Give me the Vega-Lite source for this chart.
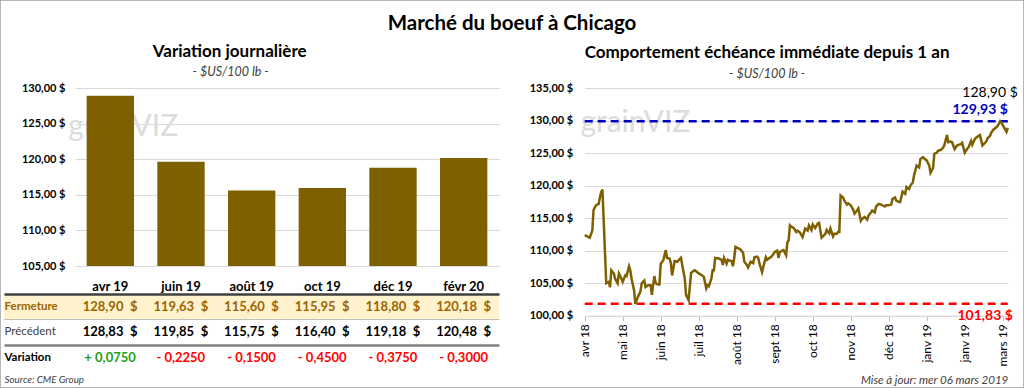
{
  "$schema": "https://vega.github.io/schema/vega-lite/v6.json",
  "width": 1024,
  "height": 388,
  "autosize": {"type": "none"},
  "padding": 0,
  "background": "white",
  "title": {"text": "Marché du boeuf à Chicago", "fontSize": 20.5, "fontWeight": "bold", "anchor": "middle", "frame": "group", "offset": -34, "color": "#000"},
  "datasets": {
    "contrats": [
      {"mois": "avr 19", "fermeture": 128.90, "precedent": 128.83, "variation": 0.075},
      {"mois": "juin 19", "fermeture": 119.63, "precedent": 119.85, "variation": -0.225},
      {"mois": "août 19", "fermeture": 115.60, "precedent": 115.75, "variation": -0.15},
      {"mois": "oct 19", "fermeture": 115.95, "precedent": 116.40, "variation": -0.45},
      {"mois": "déc 19", "fermeture": 118.80, "precedent": 119.18, "variation": -0.375},
      {"mois": "févr 20", "fermeture": 120.18, "precedent": 120.48, "variation": -0.30}
    ],
    "references": [
      {"serie": "dernier", "valeur": 128.90},
      {"serie": "max", "valeur": 129.93},
      {"serie": "min", "valeur": 101.83}
    ],
    "historique": [
      {"date": "2018-04-06", "cours": 112.4}, {"date": "2018-04-10", "cours": 112.0}, {"date": "2018-04-12", "cours": 113.1}, {"date": "2018-04-13", "cours": 116.3},
      {"date": "2018-04-15", "cours": 117.0}, {"date": "2018-04-17", "cours": 117.2}, {"date": "2018-04-18", "cours": 118.2}, {"date": "2018-04-19", "cours": 119.0},
      {"date": "2018-04-20", "cours": 119.4}, {"date": "2018-04-23", "cours": 105.0}, {"date": "2018-04-25", "cours": 105.2}, {"date": "2018-04-26", "cours": 104.4},
      {"date": "2018-04-27", "cours": 107.0}, {"date": "2018-04-29", "cours": 106.5}, {"date": "2018-04-30", "cours": 105.7}, {"date": "2018-05-02", "cours": 105.0},
      {"date": "2018-05-03", "cours": 106.5}, {"date": "2018-05-05", "cours": 105.7}, {"date": "2018-05-06", "cours": 105.2}, {"date": "2018-05-08", "cours": 106.2},
      {"date": "2018-05-09", "cours": 106.1}, {"date": "2018-05-11", "cours": 107.6}, {"date": "2018-05-12", "cours": 107.0}, {"date": "2018-05-13", "cours": 105.7},
      {"date": "2018-05-15", "cours": 103.9}, {"date": "2018-05-16", "cours": 101.83}, {"date": "2018-05-18", "cours": 102.9}, {"date": "2018-05-20", "cours": 103.7},
      {"date": "2018-05-21", "cours": 105.0}, {"date": "2018-05-23", "cours": 105.4}, {"date": "2018-05-24", "cours": 104.4}, {"date": "2018-05-26", "cours": 104.7},
      {"date": "2018-05-28", "cours": 104.7}, {"date": "2018-05-29", "cours": 103.2}, {"date": "2018-05-31", "cours": 106.1}, {"date": "2018-06-01", "cours": 105.0},
      {"date": "2018-06-03", "cours": 104.8}, {"date": "2018-06-04", "cours": 104.8}, {"date": "2018-06-05", "cours": 108.0}, {"date": "2018-06-07", "cours": 108.5},
      {"date": "2018-06-09", "cours": 110.1}, {"date": "2018-06-10", "cours": 108.9}, {"date": "2018-06-12", "cours": 108.8}, {"date": "2018-06-13", "cours": 108.1},
      {"date": "2018-06-14", "cours": 106.2}, {"date": "2018-06-16", "cours": 108.4}, {"date": "2018-06-18", "cours": 108.3}, {"date": "2018-06-19", "cours": 108.5},
      {"date": "2018-06-21", "cours": 108.9}, {"date": "2018-06-22", "cours": 107.8}, {"date": "2018-06-24", "cours": 105.7}, {"date": "2018-06-25", "cours": 103.2},
      {"date": "2018-06-27", "cours": 102.4}, {"date": "2018-06-29", "cours": 106.6}, {"date": "2018-07-01", "cours": 106.9}, {"date": "2018-07-02", "cours": 107.0},
      {"date": "2018-07-05", "cours": 106.5}, {"date": "2018-07-07", "cours": 106.3}, {"date": "2018-07-09", "cours": 106.0}, {"date": "2018-07-11", "cours": 104.2},
      {"date": "2018-07-12", "cours": 104.7}, {"date": "2018-07-13", "cours": 104.55}, {"date": "2018-07-15", "cours": 105.7}, {"date": "2018-07-16", "cours": 107.0},
      {"date": "2018-07-17", "cours": 107.0}, {"date": "2018-07-18", "cours": 108.9}, {"date": "2018-07-21", "cours": 108.8}, {"date": "2018-07-23", "cours": 108.6},
      {"date": "2018-07-24", "cours": 107.8}, {"date": "2018-07-25", "cours": 108.9}, {"date": "2018-07-27", "cours": 108.0}, {"date": "2018-07-28", "cours": 108.6},
      {"date": "2018-07-29", "cours": 108.5}, {"date": "2018-07-31", "cours": 108.4}, {"date": "2018-08-01", "cours": 107.6}, {"date": "2018-08-02", "cours": 108.8},
      {"date": "2018-08-03", "cours": 110.6}, {"date": "2018-08-05", "cours": 110.4}, {"date": "2018-08-07", "cours": 110.2}, {"date": "2018-08-09", "cours": 109.7},
      {"date": "2018-08-10", "cours": 108.3}, {"date": "2018-08-12", "cours": 107.8}, {"date": "2018-08-13", "cours": 107.4}, {"date": "2018-08-15", "cours": 108.3},
      {"date": "2018-08-17", "cours": 108.1}, {"date": "2018-08-18", "cours": 109.0}, {"date": "2018-08-20", "cours": 109.1}, {"date": "2018-08-21", "cours": 108.9},
      {"date": "2018-08-22", "cours": 108.0}, {"date": "2018-08-23", "cours": 107.4}, {"date": "2018-08-24", "cours": 106.7}, {"date": "2018-08-26", "cours": 108.3},
      {"date": "2018-08-27", "cours": 109.0}, {"date": "2018-08-28", "cours": 108.6}, {"date": "2018-08-30", "cours": 108.9}, {"date": "2018-08-31", "cours": 109.0},
      {"date": "2018-09-02", "cours": 109.5}, {"date": "2018-09-03", "cours": 109.8}, {"date": "2018-09-05", "cours": 110.0}, {"date": "2018-09-06", "cours": 108.9},
      {"date": "2018-09-07", "cours": 109.8}, {"date": "2018-09-09", "cours": 110.0}, {"date": "2018-09-10", "cours": 110.1}, {"date": "2018-09-12", "cours": 109.3},
      {"date": "2018-09-13", "cours": 111.3}, {"date": "2018-09-14", "cours": 111.6}, {"date": "2018-09-15", "cours": 113.9}, {"date": "2018-09-16", "cours": 113.7},
      {"date": "2018-09-18", "cours": 113.5}, {"date": "2018-09-20", "cours": 112.9}, {"date": "2018-09-21", "cours": 113.1}, {"date": "2018-09-23", "cours": 112.8},
      {"date": "2018-09-25", "cours": 112.1}, {"date": "2018-09-27", "cours": 113.4}, {"date": "2018-09-29", "cours": 113.1}, {"date": "2018-09-30", "cours": 113.9},
      {"date": "2018-10-02", "cours": 113.2}, {"date": "2018-10-03", "cours": 114.05}, {"date": "2018-10-05", "cours": 113.5}, {"date": "2018-10-07", "cours": 114.2},
      {"date": "2018-10-08", "cours": 114.3}, {"date": "2018-10-10", "cours": 112.0}, {"date": "2018-10-11", "cours": 112.2}, {"date": "2018-10-13", "cours": 112.6},
      {"date": "2018-10-14", "cours": 113.2}, {"date": "2018-10-16", "cours": 112.7}, {"date": "2018-10-17", "cours": 113.4}, {"date": "2018-10-19", "cours": 112.2},
      {"date": "2018-10-20", "cours": 112.6}, {"date": "2018-10-22", "cours": 112.6}, {"date": "2018-10-23", "cours": 112.9}, {"date": "2018-10-24", "cours": 112.9},
      {"date": "2018-10-25", "cours": 118.5}, {"date": "2018-10-27", "cours": 118.2}, {"date": "2018-10-28", "cours": 117.7}, {"date": "2018-10-30", "cours": 117.1},
      {"date": "2018-10-31", "cours": 117.3}, {"date": "2018-11-02", "cours": 117.0}, {"date": "2018-11-04", "cours": 116.3}, {"date": "2018-11-05", "cours": 115.7},
      {"date": "2018-11-07", "cours": 116.2}, {"date": "2018-11-08", "cours": 116.5}, {"date": "2018-11-10", "cours": 114.6}, {"date": "2018-11-11", "cours": 114.9},
      {"date": "2018-11-13", "cours": 115.2}, {"date": "2018-11-15", "cours": 114.8}, {"date": "2018-11-16", "cours": 115.4}, {"date": "2018-11-18", "cours": 115.9},
      {"date": "2018-11-19", "cours": 116.2}, {"date": "2018-11-21", "cours": 115.9}, {"date": "2018-11-22", "cours": 116.8}, {"date": "2018-11-24", "cours": 117.2},
      {"date": "2018-11-26", "cours": 117.1}, {"date": "2018-11-27", "cours": 117.0}, {"date": "2018-11-29", "cours": 116.8}, {"date": "2018-11-30", "cours": 117.0},
      {"date": "2018-12-02", "cours": 117.0}, {"date": "2018-12-04", "cours": 117.1}, {"date": "2018-12-05", "cours": 118.0}, {"date": "2018-12-07", "cours": 118.2},
      {"date": "2018-12-08", "cours": 117.7}, {"date": "2018-12-10", "cours": 117.5}, {"date": "2018-12-11", "cours": 117.5}, {"date": "2018-12-13", "cours": 119.1},
      {"date": "2018-12-15", "cours": 118.75}, {"date": "2018-12-16", "cours": 119.8}, {"date": "2018-12-18", "cours": 119.5}, {"date": "2018-12-19", "cours": 120.0},
      {"date": "2018-12-21", "cours": 120.5}, {"date": "2018-12-22", "cours": 121.6}, {"date": "2018-12-24", "cours": 123.1}, {"date": "2018-12-26", "cours": 122.8},
      {"date": "2018-12-27", "cours": 124.1}, {"date": "2018-12-29", "cours": 124.4}, {"date": "2018-12-30", "cours": 124.2}, {"date": "2019-01-01", "cours": 123.9},
      {"date": "2019-01-03", "cours": 123.1}, {"date": "2019-01-04", "cours": 122.0}, {"date": "2019-01-06", "cours": 122.7}, {"date": "2019-01-07", "cours": 124.9},
      {"date": "2019-01-09", "cours": 125.1}, {"date": "2019-01-10", "cours": 125.4}, {"date": "2019-01-12", "cours": 125.5}, {"date": "2019-01-14", "cours": 125.9},
      {"date": "2019-01-15", "cours": 126.3}, {"date": "2019-01-17", "cours": 127.8}, {"date": "2019-01-18", "cours": 126.7}, {"date": "2019-01-20", "cours": 126.8},
      {"date": "2019-01-21", "cours": 126.7}, {"date": "2019-01-23", "cours": 125.65}, {"date": "2019-01-25", "cours": 126.2}, {"date": "2019-01-26", "cours": 126.3},
      {"date": "2019-01-28", "cours": 126.4}, {"date": "2019-01-29", "cours": 126.6}, {"date": "2019-01-31", "cours": 125.1}, {"date": "2019-02-02", "cours": 125.7},
      {"date": "2019-02-03", "cours": 125.9}, {"date": "2019-02-05", "cours": 126.9}, {"date": "2019-02-06", "cours": 126.3}, {"date": "2019-02-08", "cours": 127.2},
      {"date": "2019-02-09", "cours": 127.4}, {"date": "2019-02-11", "cours": 127.7}, {"date": "2019-02-12", "cours": 127.8}, {"date": "2019-02-14", "cours": 126.2},
      {"date": "2019-02-15", "cours": 126.4}, {"date": "2019-02-17", "cours": 126.8}, {"date": "2019-02-18", "cours": 127.3}, {"date": "2019-02-20", "cours": 127.7},
      {"date": "2019-02-21", "cours": 128.2}, {"date": "2019-02-23", "cours": 128.7}, {"date": "2019-02-25", "cours": 129.0}, {"date": "2019-02-26", "cours": 129.2},
      {"date": "2019-02-28", "cours": 129.93}, {"date": "2019-03-01", "cours": 129.7}, {"date": "2019-03-03", "cours": 129.0}, {"date": "2019-03-05", "cours": 128.3},
      {"date": "2019-03-06", "cours": 128.9}
    ]
  },
  "layer": [
    {
      "layer": [
        {
          "layer": [
            {
              "data": {"values": [{}]},
              "mark": {"type": "text", "text": "grainVIZ", "fontSize": 30, "color": "#dcdcdc", "align": "center", "baseline": "middle", "dx": 13},
              "encoding": {
                "x": {"datum": "avr 19", "type": "nominal", "axis": {"title": null}},
                "y": {"datum": 124.5, "type": "quantitative", "axis": {"title": null}}
              }
            },
            {
              "data": {"name": "contrats"},
              "mark": {"type": "bar", "color": "#7f6000"},
              "encoding": {
                "x": {
                  "field": "mois", "type": "nominal",
                  "scale": {"domain": ["avr 19", "juin 19", "août 19", "oct 19", "déc 19", "févr 20"], "range": [75, 499], "paddingInner": 0.33, "paddingOuter": 0.165},
                  "axis": {"orient": "bottom", "offset": -122, "title": null, "ticks": false, "domain": false, "grid": false, "labelPadding": 14, "labelFontSize": 13, "labelFontWeight": "bold", "labelAngle": 0, "labelAlign": "center", "labelBaseline": "top", "labelColor": "#000"}
                },
                "y": {
                  "field": "fermeture", "type": "quantitative",
                  "scale": {"domain": [105, 130], "range": [266, 88], "zero": false, "nice": false},
                  "axis": {"orient": "left", "offset": -75, "title": null, "values": [105, 110, 115, 120, 125, 130], "format": "$.2f", "labelFontSize": 11, "labelFontWeight": "bold", "labelPadding": 10, "labelAlign": "right", "labelBaseline": "middle", "labelColor": "#000", "ticks": false, "domain": false, "grid": true, "gridColor": "#d9d9d9", "zindex": 0}
                },
                "y2": {"datum": 105}
              }
            },
            {
              "data": {"values": [{}]},
              "mark": {"type": "text", "text": "Variation journalière", "fontSize": 17, "fontWeight": "bold", "color": "#000", "align": "center", "baseline": "middle", "dx": -22},
              "encoding": {
                "x": {"datum": "août 19", "type": "nominal", "axis": {"title": null}},
                "y": {"datum": 135.06, "type": "quantitative", "axis": {"title": null}}
              }
            },
            {
              "data": {"values": [{}]},
              "mark": {"type": "text", "text": "- $US/100 lb -", "fontSize": 12.5, "fontStyle": "italic", "color": "#404040", "align": "center", "baseline": "middle", "dx": -21},
              "encoding": {
                "x": {"datum": "août 19", "type": "nominal", "axis": {"title": null}},
                "y": {"datum": 132.25, "type": "quantitative", "axis": {"title": null}}
              }
            }
          ]
        },
        {
          "layer": [
            {
              "data": {"name": "contrats"},
              "mark": {"type": "rect", "color": "#fff2cc"},
              "encoding": {
                "x": {
                  "field": "mois", "type": "nominal",
                  "scale": {"domain": ["libellé", "avr 19", "juin 19", "août 19", "oct 19", "déc 19", "févr 20"], "range": [4, 499], "paddingInner": 0, "paddingOuter": 0},
                  "axis": {"orient": "bottom", "offset": -14, "labels": false, "ticks": false, "domain": false, "grid": false, "title": "Source: CME Group", "titleAnchor": "start", "titleFontStyle": "italic", "titleFontWeight": "normal", "titleFontSize": 9.8, "titleColor": "#404040", "titlePadding": 0}
                },
                "y": {
                  "datum": "Fermeture", "type": "nominal",
                  "scale": {"domain": ["Fermeture", "Précédent", "Variation"], "range": [294, 370.5], "paddingInner": 0, "paddingOuter": 0},
                  "axis": {
                    "orient": "left", "offset": -4, "title": null, "ticks": false, "domain": false, "grid": true, "bandPosition": 0, "zindex": 1,
                    "labelAlign": "left", "labelBaseline": "middle", "labelPadding": 0, "labelFontSize": 11.5,
                    "labelColor": {"condition": [{"test": "datum.value === 'Fermeture'", "value": "#9c6500"}, {"test": "datum.value === 'Précédent'", "value": "#404040"}], "value": "#000"},
                    "labelFontWeight": {"condition": {"test": "datum.value === 'Précédent'", "value": "normal"}, "value": "bold"},
                    "gridColor": {"condition": [{"test": "datum.value === 'Fermeture'", "value": "#404040"}, {"test": "datum.value === 'Précédent'", "value": "#bfbfbf"}], "value": "#808080"},
                    "gridWidth": {"condition": {"test": "datum.value === 'Précédent'", "value": 1}, "value": 2.5}
                  }
                }
              }
            },
            {
              "data": {"values": [{}]},
              "mark": {"type": "rect", "color": "#fff2cc"},
              "encoding": {
                "x": {"datum": "libellé", "type": "nominal", "axis": {"title": "Source: CME Group"}},
                "y": {"datum": "Fermeture", "type": "nominal", "axis": {"title": null}}
              }
            },
            {
              "data": {"name": "contrats"},
              "mark": {"type": "text", "fontSize": 13, "fontWeight": "bold", "color": "#9c6500", "align": "center", "baseline": "middle", "text": {"expr": "format(datum.fermeture, '.2f') + '\u2002$'"}},
              "encoding": {
                "x": {"field": "mois", "type": "nominal", "axis": {"title": "Source: CME Group"}},
                "y": {"datum": "Fermeture", "type": "nominal", "axis": {"title": null}}
              }
            },
            {
              "data": {"name": "contrats"},
              "mark": {"type": "text", "fontSize": 13, "fontWeight": "bold", "color": "#000", "align": "center", "baseline": "middle", "text": {"expr": "format(datum.precedent, '.2f') + '\u2002$'"}},
              "encoding": {
                "x": {"field": "mois", "type": "nominal", "axis": {"title": "Source: CME Group"}},
                "y": {"datum": "Précédent", "type": "nominal", "axis": {"title": null}}
              }
            },
            {
              "data": {"name": "contrats"},
              "mark": {"type": "text", "fontSize": 13, "fontWeight": "bold", "align": "center", "baseline": "middle", "text": {"expr": "(datum.variation >= 0 ? '+ ' : '- ') + format(abs(datum.variation), '.4f')"}},
              "encoding": {
                "x": {"field": "mois", "type": "nominal", "axis": {"title": "Source: CME Group"}},
                "y": {"datum": "Variation", "type": "nominal", "axis": {"title": null}},
                "color": {"condition": {"test": "datum.variation >= 0", "value": "#1e9e1e"}, "value": "#ff0000"}
              }
            }
          ]
        }
      ],
      "resolve": {"scale": {"x": "independent", "y": "independent"}, "axis": {"x": "independent", "y": "independent"}}
    },
    {
      "layer": [
        {
          "data": {"values": [{}]},
          "mark": {"type": "text", "text": "grainVIZ", "fontSize": 30, "color": "#dcdcdc", "align": "center", "baseline": "middle"},
          "encoding": {
            "x": {"datum": {"year": 2018, "month": 5, "date": 16, "utc": true}, "type": "temporal", "axis": {"title": "Mise à jour: mer 06 mars 2019"}},
            "y": {"datum": 129.7, "type": "quantitative", "axis": {"title": null}}
          }
        },
        {
          "data": {"name": "references"},
          "transform": [{"filter": "datum.serie !== 'dernier'"}],
          "mark": {"type": "rule", "strokeWidth": 2.5, "strokeDash": [8, 5]},
          "encoding": {
            "x": {"datum": {"year": 2018, "month": 4, "date": 6, "utc": true}, "type": "temporal", "axis": {"title": "Mise à jour: mer 06 mars 2019"}},
            "x2": {"datum": {"year": 2019, "month": 3, "date": 6, "utc": true}},
            "y": {"field": "valeur", "type": "quantitative", "axis": {"title": null}},
            "color": {"condition": {"test": "datum.serie === 'max'", "value": "#0000c0"}, "value": "#ff0000"}
          }
        },
        {
          "data": {"name": "historique"},
          "mark": {"type": "line", "color": "#7f6000", "strokeWidth": 2.5},
          "encoding": {
            "x": {
              "field": "date", "type": "temporal",
              "scale": {"type": "utc", "domain": [{"year": 2018, "month": 4, "date": 6, "utc": true}, {"year": 2019, "month": 3, "date": 6, "utc": true}], "range": [584.7, 1007.8], "nice": false},
              "axis": {
                "orient": "bottom", "offset": -72.3,
                "values": [
                  {"year": 2018, "month": 4, "date": 6, "utc": true}, {"year": 2018, "month": 5, "date": 6, "utc": true},
                  {"year": 2018, "month": 6, "date": 5, "utc": true}, {"year": 2018, "month": 7, "date": 5, "utc": true},
                  {"year": 2018, "month": 8, "date": 4, "utc": true}, {"year": 2018, "month": 9, "date": 3, "utc": true},
                  {"year": 2018, "month": 10, "date": 3, "utc": true}, {"year": 2018, "month": 11, "date": 2, "utc": true},
                  {"year": 2018, "month": 12, "date": 2, "utc": true}, {"year": 2019, "month": 1, "date": 1, "utc": true},
                  {"year": 2019, "month": 1, "date": 31, "utc": true}, {"year": 2019, "month": 3, "date": 2, "utc": true}
                ],
                "labelExpr": "['janv','févr','mars','avr','mai','juin','juil','août','sept','oct','nov','déc'][utcmonth(datum.value)] + ' ' + utcFormat(datum.value, '%y')",
                "labelAngle": -90, "labelAlign": "right", "labelBaseline": "middle", "labelPadding": 3, "labelFontSize": 12, "labelColor": "#000",
                "labelOverlap": false, "labelFlush": false, "labelBound": false,
                "ticks": true, "tickSize": 5, "tickColor": "#bfbfbf", "domain": true, "domainColor": "#d9d9d9", "grid": false,
                "title": "Mise à jour: mer 06 mars 2019", "titleAnchor": "end", "titleFontStyle": "italic", "titleFontWeight": "normal", "titleFontSize": 11.5, "titleColor": "#404040", "titlePadding": 8
              }
            },
            "y": {
              "field": "cours", "type": "quantitative",
              "scale": {"domain": [100, 135], "range": [315.7, 88.3], "zero": false, "nice": false},
              "axis": {"orient": "left", "offset": -584.7, "title": null, "values": [100, 105, 110, 115, 120, 125, 130, 135], "format": "$.2f", "labelFontSize": 11, "labelFontWeight": "bold", "labelPadding": 12, "labelAlign": "right", "labelBaseline": "middle", "labelColor": "#000", "ticks": false, "domain": false, "grid": true, "gridColor": "#d9d9d9", "zindex": 0}
            }
          }
        },
        {
          "data": {"name": "references"},
          "transform": [{"filter": "datum.serie === 'max'"}],
          "mark": {"type": "text", "fontSize": 14, "fontWeight": "bold", "color": "#0000c0", "align": "right", "baseline": "middle", "dy": -11},
          "encoding": {
            "x": {"datum": {"year": 2019, "month": 3, "date": 6, "utc": true}, "type": "temporal", "axis": {"title": "Mise à jour: mer 06 mars 2019"}},
            "y": {"field": "valeur", "type": "quantitative", "axis": {"title": null}},
            "text": {"field": "valeur", "type": "quantitative", "format": "$.2f"}
          }
        },
        {
          "data": {"name": "references"},
          "transform": [{"filter": "datum.serie === 'dernier'"}],
          "mark": {"type": "text", "fontSize": 14, "color": "#000", "align": "right", "baseline": "middle", "dy": -35, "dx": 10},
          "encoding": {
            "x": {"datum": {"year": 2019, "month": 3, "date": 6, "utc": true}, "type": "temporal", "axis": {"title": "Mise à jour: mer 06 mars 2019"}},
            "y": {"field": "valeur", "type": "quantitative", "axis": {"title": null}},
            "text": {"field": "valeur", "type": "quantitative", "format": "$.2f"}
          }
        },
        {
          "data": {"name": "references"},
          "transform": [{"filter": "datum.serie === 'min'"}],
          "mark": {"type": "text", "fontSize": 14, "fontWeight": "bold", "color": "#ff0000", "align": "right", "baseline": "middle", "dy": 12.5, "dx": 5},
          "encoding": {
            "x": {"datum": {"year": 2019, "month": 3, "date": 6, "utc": true}, "type": "temporal", "axis": {"title": "Mise à jour: mer 06 mars 2019"}},
            "y": {"field": "valeur", "type": "quantitative", "axis": {"title": null}},
            "text": {"field": "valeur", "type": "quantitative", "format": "$.2f"}
          }
        },
        {
          "data": {"values": [{}]},
          "mark": {"type": "text", "text": "Comportement échéance immédiate depuis 1 an", "fontSize": 17, "fontWeight": "bold", "color": "#000", "align": "center", "baseline": "middle"},
          "encoding": {
            "x": {"datum": {"year": 2018, "month": 8, "date": 28, "utc": true}, "type": "temporal", "axis": {"title": "Mise à jour: mer 06 mars 2019"}},
            "y": {"datum": 140.4, "type": "quantitative", "axis": {"title": null}}
          }
        },
        {
          "data": {"values": [{}]},
          "mark": {"type": "text", "text": "- $US/100 lb -", "fontSize": 12.5, "fontStyle": "italic", "color": "#404040", "align": "center", "baseline": "middle"},
          "encoding": {
            "x": {"datum": {"year": 2018, "month": 8, "date": 28, "utc": true}, "type": "temporal", "axis": {"title": "Mise à jour: mer 06 mars 2019"}},
            "y": {"datum": 137.2, "type": "quantitative", "axis": {"title": null}}
          }
        }
      ]
    }
  ],
  "resolve": {"scale": {"x": "independent", "y": "independent"}, "axis": {"x": "independent", "y": "independent"}},
  "config": {
    "font": "Lato",
    "view": {"stroke": "#a0a0a0", "strokeWidth": 1.5},
    "locale": {
      "number": {"decimal": ",", "thousands": "\u00a0", "grouping": [3], "currency": ["", "\u00a0$"], "minus": "- "}
    }
  }
}
